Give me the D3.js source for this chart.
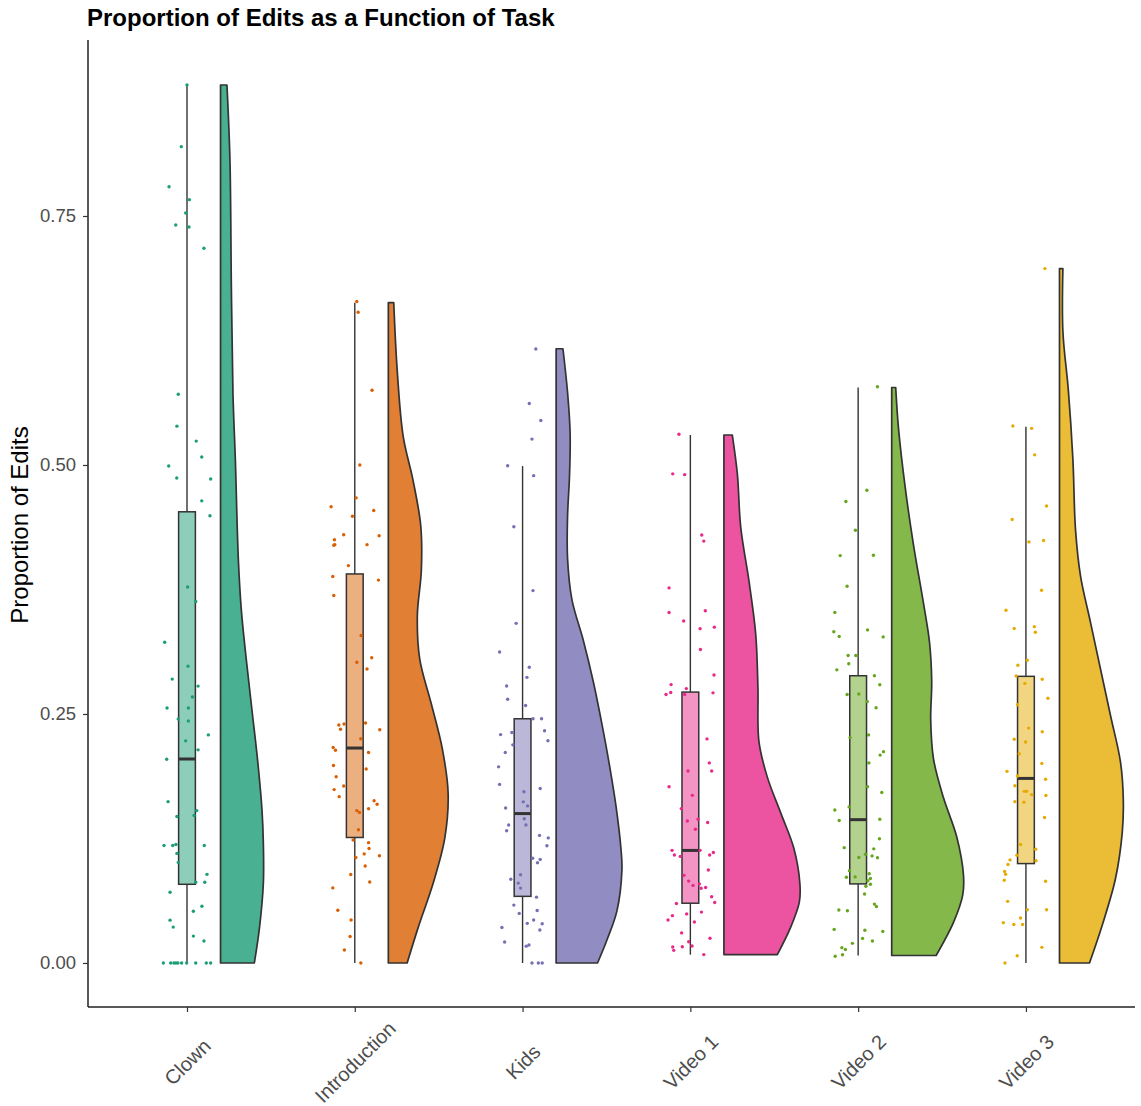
<!DOCTYPE html>
<head>
  <meta charset="utf-8">
  <script src="https://d3js.org/d3.v7.min.js"></script>
  <style>
    body { margin:0; background:#fff; }
    svg text { font-family: "Liberation Sans", Arial, sans-serif; }
  </style>
</head>
<body>
<script>
var width = 1141,
    height = 1106;

var tasks = ["Clown", "Introduction", "Kids", "Video 1", "Video 2", "Video 3"];
var colors = ["#1B9E77", "#D95F02", "#7570B3", "#E7298A", "#66A61E", "#E6AB02"];
var yTicks = [0, 0.25, 0.5, 0.75];

// box plot stats: lower whisker, q1, median, q3, upper whisker
var boxLower  = [0,      0,      0,      0.0084, 0.0075, 0];
var boxQ1     = [0.079,  0.126,  0.0669, 0.060,  0.0794, 0.0998];
var boxMedian = [0.2048, 0.2158, 0.150,  0.113,  0.1439, 0.1853];
var boxQ3     = [0.453,  0.3906, 0.2452, 0.272,  0.2884, 0.2878];
var boxUpper  = [0.8815, 0.663,  0.4989, 0.5301, 0.5778, 0.5383];

// half-violin density profiles: [proportion, density]
var clownDensity = [[0.8815,0.32],[0.806,0.47],[0.679,0.54],[0.572,0.62],[0.505,0.74],[0.405,0.89],[0.354,1.04],[0.304,1.29],[0.254,1.57],[0.204,1.85],[0.154,2.07],[0.12,2.14],[0.08,2.14],[0.036,1.95],[0,1.69]];
var introDensity = [[0.663,0.27],[0.596,0.44],[0.529,0.74],[0.484,1.24],[0.439,1.62],[0.394,1.65],[0.349,1.45],[0.305,1.57],[0.26,2.15],[0.215,2.7],[0.17,2.99],[0.125,2.82],[0.08,2.24],[0.0355,1.49],[0,0.94]];
var kidsDensity = [[0.6167,0.34],[0.5731,0.57],[0.5314,0.7],[0.4897,0.67],[0.4481,0.57],[0.4064,0.57],[0.3648,0.79],[0.3231,1.37],[0.2814,1.87],[0.2398,2.29],[0.1981,2.67],[0.1564,3.0],[0.1148,3.24],[0.094,3.29],[0.0523,3.04],[0.0231,2.54],[0,2.07]];
var video1Density = [[0.5301,0.42],[0.4914,0.67],[0.4376,0.84],[0.3838,1.25],[0.33,1.59],[0.2762,1.7],[0.2225,1.75],[0.1866,2.17],[0.1507,2.84],[0.1149,3.5],[0.079,3.8],[0.0611,3.77],[0.036,3.34],[0.0084,2.67]];
var video2Density = [[0.5778,0.2],[0.5368,0.34],[0.4782,0.67],[0.4196,1.09],[0.361,1.59],[0.322,1.89],[0.2829,2.0],[0.2439,1.95],[0.2048,2.09],[0.1658,2.59],[0.1267,3.25],[0.0877,3.59],[0.0681,3.55],[0.0408,3.09],[0.0075,2.22]];
var video3Density = [[0.6972,0.17],[0.634,0.17],[0.5756,0.44],[0.5055,0.67],[0.4354,0.8],[0.3887,1.05],[0.342,1.55],[0.2952,2.05],[0.2485,2.55],[0.2017,3.05],[0.1644,3.19],[0.1316,3.14],[0.0848,2.8],[0.0382,2.14],[0,1.5]];

// raw observations: [proportion, horizontal jitter]
var clownPoints = [[0.8815,0.000],[0.8196,-0.034],[0.7794,-0.107],[0.7664,0.014],[0.753,-0.008],[0.741,-0.067],[0.739,0.012],[0.7176,0.101],[0.571,-0.052],[0.539,-0.060],[0.524,0.055],[0.508,0.088],[0.499,-0.109],[0.487,-0.061],[0.486,0.141],[0.464,0.088],[0.449,0.137],[0.3775,0.004],[0.363,0.052],[0.322,-0.133],[0.298,0.006],[0.285,-0.088],[0.278,0.066],[0.267,0.032],[0.256,-0.119],[0.256,0.008],[0.245,-0.052],[0.243,0.008],[0.229,0.127],[0.223,-0.008],[0.214,0.066],[0.2045,-0.121],[0.162,-0.113],[0.153,0.058],[0.147,-0.060],[0.148,0.042],[0.118,-0.137],[0.118,-0.085],[0.119,-0.066],[0.118,0.103],[0.110,-0.060],[0.101,-0.052],[0.089,0.119],[0.081,0.052],[0.081,0.106],[0.071,-0.101],[0.057,0.089],[0.052,0.038],[0.043,-0.101],[0.036,-0.082],[0.027,0.038],[0.022,0.101],[0,-0.141],[0,-0.097],[0,-0.078],[0,-0.066],[0,-0.054],[0,-0.032],[0,-0.002],[0,0.052],[0,0.115],[0,0.141]];
var introPoints = [[0.6642,0.012],[0.6534,0.020],[0.575,0.103],[0.500,0.030],[0.467,0.008],[0.458,-0.141],[0.4485,-0.014],[0.4543,0.113],[0.430,-0.066],[0.425,-0.121],[0.429,0.145],[0.420,-0.119],[0.4194,-0.125],[0.420,0.073],[0.399,-0.038],[0.388,-0.131],[0.3844,0.141],[0.369,-0.125],[0.3288,0.038],[0.302,0.012],[0.3064,0.101],[0.2952,0.073],[0.239,-0.095],[0.240,-0.064],[0.241,0.064],[0.2346,-0.085],[0.2341,0.149],[0.2252,0.036],[0.2163,-0.129],[0.2136,-0.115],[0.2113,0.082],[0.1983,-0.127],[0.1948,0.068],[0.187,-0.111],[0.1777,-0.066],[0.1741,-0.123],[0.167,-0.093],[0.1629,0.115],[0.1593,0.133],[0.153,0.012],[0.1512,0.028],[0.1548,0.082],[0.1337,0.022],[0.1235,-0.010],[0.1208,0.082],[0.1149,0.085],[0.1095,0.056],[0.1077,0.147],[0.1059,0.006],[0.0974,0.062],[0.0889,-0.024],[0.0813,0.089],[0.0754,-0.131],[0.053,-0.101],[0.0432,-0.022],[0.0266,-0.028],[0.0131,-0.062],[0,0.036]];
var kidsPoints = [[0.6164,0.079],[0.5618,0.040],[0.5447,0.109],[0.526,0.056],[0.4993,-0.089],[0.4893,0.066],[0.438,-0.052],[0.3739,0.062],[0.341,-0.038],[0.3122,-0.137],[0.2969,0.040],[0.2868,0.026],[0.2781,-0.095],[0.2648,-0.089],[0.2585,0.018],[0.2452,0.062],[0.2452,0.113],[0.2293,-0.131],[0.2314,-0.064],[0.2331,0.131],[0.219,-0.058],[0.2231,0.151],[0.2114,-0.103],[0.1969,-0.143],[0.1793,-0.137],[0.1752,0.105],[0.1719,0.008],[0.1618,0.004],[0.1577,0.030],[0.1556,-0.101],[0.1448,0.010],[0.1386,-0.083],[0.1386,0.020],[0.1327,-0.095],[0.1281,0.101],[0.1256,0.153],[0.1177,0.145],[0.1052,0.060],[0.1039,0.105],[0.1006,0.089],[0.0886,-0.012],[0.084,-0.070],[0.0802,-0.026],[0.0752,-0.012],[0.0661,0.083],[0.0581,-0.052],[0.0527,0.087],[0.0498,-0.020],[0.0432,0.066],[0.0398,0.028],[0.0394,0.117],[0.0356,-0.123],[0.0331,0.103],[0.0211,-0.107],[0.0181,0.038],[0.0169,0.022],[0,0.056],[0,0.094],[0,0.117]];
var video1Points = [[0.5308,-0.068],[0.4911,-0.105],[0.4903,-0.034],[0.4297,0.068],[0.4236,0.080],[0.3766,-0.127],[0.3519,-0.127],[0.3537,0.089],[0.3433,-0.040],[0.3357,0.058],[0.3372,0.143],[0.3147,0.060],[0.2892,0.141],[0.2795,-0.115],[0.2695,-0.145],[0.2716,-0.117],[0.2755,-0.024],[0.2712,0.135],[0.2695,-0.034],[0.225,0.099],[0.2009,0.113],[0.1927,0.127],[0.1927,-0.014],[0.1769,-0.127],[0.1683,0.012],[0.155,-0.054],[0.1443,0.046],[0.1425,-0.018],[0.1411,0.103],[0.1342,0.030],[0.1131,-0.109],[0.1084,-0.095],[0.107,-0.060],[0.1131,0.058],[0.1109,0.137],[0.1084,0.115],[0.0934,0.107],[0.088,-0.038],[0.0822,-0.010],[0.0794,0.054],[0.0779,0.016],[0.0758,0.091],[0.0751,0.064],[0.0665,0.127],[0.0597,-0.083],[0.0607,0.145],[0.0493,-0.022],[0.0475,-0.107],[0.0511,0.066],[0.0432,-0.133],[0.0411,0.024],[0.0302,-0.052],[0.0249,0.117],[0.0213,-0.010],[0.016,-0.105],[0.0163,-0.048],[0.017,0.010],[0.0127,-0.099],[0.0084,0.080]];
var video2Points = [[0.5786,0.115],[0.4747,0.052],[0.4634,-0.073],[0.4344,-0.016],[0.409,-0.107],[0.4094,0.091],[0.3782,-0.066],[0.352,-0.139],[0.3325,-0.145],[0.3278,-0.113],[0.3344,0.056],[0.3274,0.149],[0.3087,-0.060],[0.3087,-0.014],[0.3005,-0.056],[0.2943,-0.127],[0.2884,0.097],[0.2794,0.129],[0.2696,-0.066],[0.27,0.004],[0.2626,0.054],[0.2563,0.107],[0.2263,-0.048],[0.229,0.062],[0.2087,0.131],[0.2122,0.151],[0.2009,0.064],[0.177,0.056],[0.1712,0.141],[0.1536,-0.139],[0.1567,-0.054],[0.1431,-0.113],[0.1443,0.129],[0.1158,-0.083],[0.1247,0.127],[0.1146,0.093],[0.1059,0.004],[0.1091,0.044],[0.1075,0.083],[0.1056,0.115],[0.0927,-0.052],[0.086,-0.070],[0.0864,-0.018],[0.0896,0.066],[0.0848,0.073],[0.0825,0.058],[0.079,0.073],[0.0771,0.046],[0.0693,0.038],[0.0591,0.097],[0.0567,0.109],[0.0532,-0.115],[0.0524,-0.064],[0.0337,-0.143],[0.0329,0.040],[0.0317,0.147],[0.0247,0.026],[0.022,0.085],[0.0197,-0.034],[0.0154,-0.097],[0.0135,-0.076],[0.0083,-0.093],[0.0067,-0.137]];
var video3Points = [[0.6972,0.113],[0.5392,-0.078],[0.5368,0.034],[0.5102,0.052],[0.4588,0.123],[0.4452,-0.082],[0.4228,0.018],[0.4242,0.105],[0.3742,0.093],[0.3541,-0.119],[0.3358,-0.070],[0.3377,0.050],[0.3321,0.056],[0.2989,-0.048],[0.304,0.008],[0.2882,-0.058],[0.2807,-0.006],[0.2849,0.097],[0.2658,0.131],[0.2592,-0.050],[0.2358,0.016],[0.2246,-0.070],[0.2218,-0.002],[0.2321,0.097],[0.2101,-0.040],[0.2003,0.095],[0.1924,-0.113],[0.1877,-0.050],[0.1844,0.117],[0.1779,-0.066],[0.1723,-0.010],[0.1723,0.004],[0.169,0.034],[0.1681,0.119],[0.162,-0.066],[0.1615,-0.012],[0.1461,0.111],[0.119,-0.032],[0.1143,0.058],[0.1082,-0.054],[0.1026,0.060],[0.1035,-0.095],[0.0989,-0.107],[0.0919,-0.127],[0.0891,-0.121],[0.083,-0.129],[0.082,0.117],[0.0619,-0.109],[0.0535,0.008],[0.0535,0.123],[0.0405,-0.135],[0.0386,-0.072],[0.0386,-0.020],[0.0451,-0.032],[0.0157,0.095],[0.0072,-0.052],[0,-0.125]];

var densities = [clownDensity, introDensity, kidsDensity, video1Density, video2Density, video3Density];
var points = [clownPoints, introPoints, kidsPoints, video1Points, video2Points, video3Points];

var svg = d3.select("body").append("svg")
    .attr("width", width)
    .attr("height", height);

// task index 1..6 on a continuous scale so offsets/jitter can be expressed in task units
var x = d3.scaleLinear().domain([0.41, 6.65]).range([88, 1135]);
var y = d3.scaleLinear().domain([-0.0442, 0.9267]).range([1007, 40]);
var violinWidth = d3.scaleLinear().domain([0, 3.8]).range([0, 0.453]);

var violinOffset = 0.2,
    boxHalf = 0.05;

// half violins
tasks.forEach(function(t, i) {
  var base = i + 1 + violinOffset;
  var area = d3.area()
      .curve(d3.curveCatmullRom.alpha(0.5))
      .y(function(d) { return y(d[0]); })
      .x0(x(base))
      .x1(function(d) { return x(base + violinWidth(d[1])); });
  svg.append("path")
      .datum(densities[i])
      .attr("d", area)
      .attr("fill", colors[i])
      .attr("fill-opacity", 0.8)
      .attr("stroke", "#333")
      .attr("stroke-width", 1.7)
      .attr("stroke-linejoin", "round");
});

// boxes
var boxes = svg.selectAll("g.box")
    .data(tasks)
    .enter().append("g")
    .attr("class", "box");

boxes.append("line")
    .attr("x1", function(d, i) { return x(i + 1); })
    .attr("x2", function(d, i) { return x(i + 1); })
    .attr("y1", function(d, i) { return y(boxUpper[i]); })
    .attr("y2", function(d, i) { return y(boxQ3[i]); })
    .attr("stroke", "#333").attr("stroke-width", 1.4);
boxes.append("line")
    .attr("x1", function(d, i) { return x(i + 1); })
    .attr("x2", function(d, i) { return x(i + 1); })
    .attr("y1", function(d, i) { return y(boxQ1[i]); })
    .attr("y2", function(d, i) { return y(boxLower[i]); })
    .attr("stroke", "#333").attr("stroke-width", 1.4);
boxes.append("rect")
    .attr("x", function(d, i) { return x(i + 1 - boxHalf); })
    .attr("width", function(d, i) { return x(i + 1 + boxHalf) - x(i + 1 - boxHalf); })
    .attr("y", function(d, i) { return y(boxQ3[i]); })
    .attr("height", function(d, i) { return y(boxQ1[i]) - y(boxQ3[i]); })
    .attr("fill", function(d, i) { return colors[i]; })
    .attr("fill-opacity", 0.5)
    .attr("stroke", "#333")
    .attr("stroke-width", 1.5);
boxes.append("line")
    .attr("x1", function(d, i) { return x(i + 1 - boxHalf); })
    .attr("x2", function(d, i) { return x(i + 1 + boxHalf); })
    .attr("y1", function(d, i) { return y(boxMedian[i]); })
    .attr("y2", function(d, i) { return y(boxMedian[i]); })
    .attr("stroke", "#333").attr("stroke-width", 3);

// jittered points
tasks.forEach(function(t, i) {
  svg.append("g").selectAll("circle")
      .data(points[i])
      .enter().append("circle")
      .attr("cx", function(d) { return x(i + 1 + d[1]); })
      .attr("cy", function(d) { return y(d[0]); })
      .attr("r", 1.7)
      .attr("fill", colors[i]);
});

// axes
var yAxis = svg.append("g")
    .attr("transform", "translate(88,0)")
    .call(d3.axisLeft(y).tickValues(yTicks).tickFormat(d3.format(".2f")).tickSize(5).tickPadding(7));
var xAxis = svg.append("g")
    .attr("transform", "translate(0,1007)")
    .call(d3.axisBottom(x).tickValues([1, 2, 3, 4, 5, 6])
      .tickFormat(function(d) { return tasks[d - 1]; }).tickSize(5));

[yAxis, xAxis].forEach(function(a) {
  a.select(".domain").attr("stroke", "#222").attr("stroke-width", 1.5);
  a.selectAll(".tick line").attr("stroke", "#333").attr("stroke-width", 1.2);
  a.selectAll(".tick text")
    .attr("fill", "#4D4D4D")
    .style("font-size", "18.5px")
    .style("font-family", "'Liberation Sans', Arial, sans-serif");
});
// keep the axis lines to the panel ends
yAxis.select(".domain").attr("d", "M0," + y.range()[1] + "V" + y.range()[0]);
xAxis.select(".domain").attr("d", "M" + x.range()[0] + ",0H" + x.range()[1]);

xAxis.selectAll(".tick text")
    .attr("y", 0)
    .attr("dy", "0.35em")
    .attr("text-anchor", "middle")
    .style("font-size", "20px")
    .attr("transform", "translate(0,55) rotate(-45)");

// titles
svg.append("text")
    .attr("x", 87)
    .attr("y", 26)
    .style("font-size", "24px")
    .style("font-weight", "bold")
    .attr("fill", "#000")
    .text("Proportion of Edits as a Function of Task");

svg.append("text")
    .attr("transform", "translate(28,525) rotate(-90)")
    .attr("text-anchor", "middle")
    .style("font-size", "24px")
    .attr("fill", "#000")
    .text("Proportion of Edits");
</script>
</body>
